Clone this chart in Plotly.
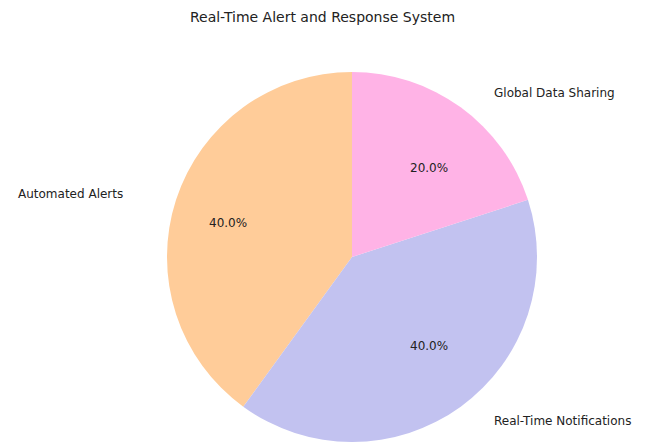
import math
import plotly.graph_objects as go

labels = ["Automated Alerts", "Real-Time Notifications", "Global Data Sharing"]
values = [40, 40, 20]
colors = ["#ffcc99", "#c2c2f0", "#ffb3e6"]
title = "Real-Time Alert and Response System"

W, H = 645, 442
cx, cy, r = 352, 257, 185
dom_x = [(cx - r) / W, (cx + r) / W]
dom_y = [(H - cy - r) / H, (H - cy + r) / H]

# text layout radii (reference pie is slightly wider than tall)
rx, ry = 217, 184
label_dist, pct_dist = 1.1, 0.6

font = dict(family="DejaVu Sans", size=12, color="#222222")

total = sum(values)
start_angle = 90.0  # degrees, counterclockwise from 3 o'clock

fig = go.Figure()
fig.add_trace(go.Pie(
    labels=labels, values=values, sort=False, direction="counterclockwise",
    rotation=-values[0] / total * 360,
    marker=dict(colors=colors, line=dict(width=0)),
    textinfo="none", domain=dict(x=dom_x, y=dom_y),
    hoverinfo="label+percent", showlegend=False,
))

annotations = []
acc = 0.0
for lab, v in zip(labels, values):
    mid = math.radians(start_angle + (acc + v / 2) / total * 360)
    acc += v
    c, s = math.cos(mid), math.sin(mid)
    lx = cx + label_dist * rx * c
    ly = cy - label_dist * ry * s
    annotations.append(dict(
        text=lab, x=lx / W, y=1 - ly / H, xref="paper", yref="paper",
        xanchor="left" if c > 0 else "right", yanchor="middle",
        showarrow=False, font=font,
    ))
    px = cx + pct_dist * rx * c
    py = cy - pct_dist * ry * s
    annotations.append(dict(
        text=f"{v / total * 100:.1f}%", x=px / W, y=1 - py / H,
        xref="paper", yref="paper", xanchor="center", yanchor="middle",
        showarrow=False, font=font,
    ))

fig.update_layout(
    width=W, height=H,
    margin=dict(l=0, r=0, t=0, b=0),
    paper_bgcolor="white", plot_bgcolor="white",
    annotations=annotations,
    title=dict(text=title, x=0.5, xanchor="center", y=1 - 17 / H, yanchor="middle",
               font=dict(family="DejaVu Sans", size=14, color="#222222")),
)
fig.write_html("out.html")
